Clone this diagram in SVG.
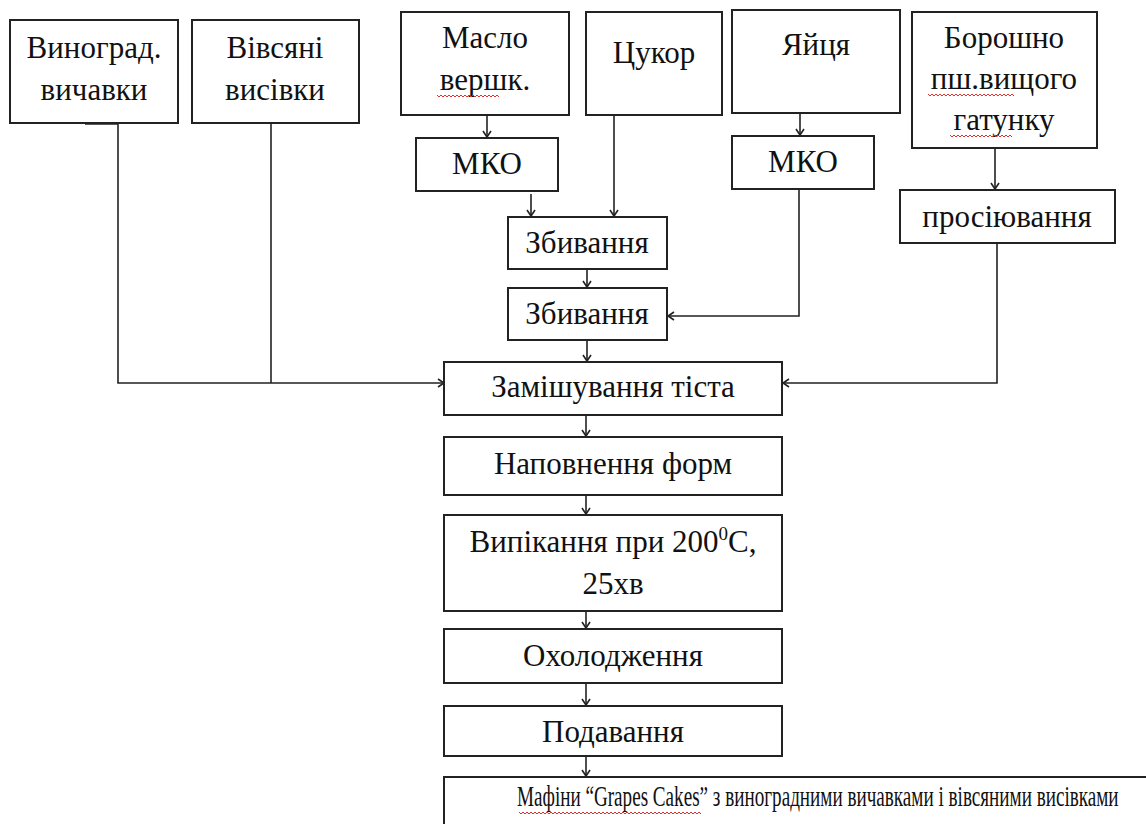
<svg xmlns="http://www.w3.org/2000/svg" width="1146" height="824" viewBox="0 0 1146 824">
<style>
.b{fill:#fff;stroke:#222;stroke-width:2}
.t{font-family:"Liberation Serif","Times New Roman",serif;font-size:31px;fill:#111;text-anchor:middle}
.c{fill:none;stroke:#222;stroke-width:1.6}
.w{fill:none;stroke:#e03030;stroke-width:1}
</style>
<defs>
<marker id="a" markerWidth="10" markerHeight="10" refX="8" refY="5" orient="auto" markerUnits="userSpaceOnUse">
<path d="M2,1 L8,5 L2,9" fill="none" stroke="#222" stroke-width="1.6"/>
</marker>
</defs>
<rect width="1146" height="824" fill="#fff"/>
<g id="connectors">
<line class="c" x1="85" y1="124" x2="118" y2="124" stroke-width="3"/>
<polyline class="c" points="118,123 118,383 444,383" marker-end="url(#a)"/>
<line class="c" x1="271" y1="123" x2="271" y2="383"/>
<line class="c" x1="487" y1="115" x2="487" y2="137" marker-end="url(#a)"/>
<line class="c" x1="531" y1="194" x2="531" y2="216" marker-end="url(#a)"/>
<line class="c" x1="614" y1="115" x2="614" y2="216" marker-end="url(#a)"/>
<line class="c" x1="800" y1="113" x2="800" y2="135" marker-end="url(#a)"/>
<polyline class="c" points="799,189 799,316 668,316" marker-end="url(#a)"/>
<line class="c" x1="995" y1="148" x2="995" y2="189" marker-end="url(#a)"/>
<polyline class="c" points="997,243 997,383 783,383" marker-end="url(#a)"/>
<line class="c" x1="587" y1="269" x2="587" y2="287" marker-end="url(#a)"/>
<line class="c" x1="587" y1="340" x2="587" y2="361" marker-end="url(#a)"/>
<line class="c" x1="586" y1="415" x2="586" y2="436" marker-end="url(#a)"/>
<line class="c" x1="586" y1="495" x2="586" y2="514" marker-end="url(#a)"/>
<line class="c" x1="586" y1="611" x2="586" y2="628" marker-end="url(#a)"/>
<line class="c" x1="586" y1="683" x2="586" y2="705" marker-end="url(#a)"/>
<line class="c" x1="586" y1="756" x2="586" y2="776" marker-end="url(#a)"/>
</g>
<g id="n1"><rect class="b" x="10" y="20" width="168" height="103"/><text class="t" x="94" y="58">Виноград.</text><text class="t" x="94" y="100">вичавки</text></g>
<g id="n2"><rect class="b" x="192" y="20" width="167" height="103"/><text class="t" x="275" y="58">Вівсяні</text><text class="t" x="275" y="100">висівки</text></g>
<g id="n3"><rect class="b" x="401" y="12" width="168" height="103"/><text class="t" x="485" y="48">Масло</text><text class="t" x="485" y="90">вершк.</text><path class="w" d="M437,95 l2,2 l2,-2 l2,2 l2,-2 l2,2 l2,-2 l2,2 l2,-2 l2,2 l2,-2 l2,2 l2,-2 l2,2 l2,-2 l2,2 l2,-2 l2,2 l2,-2 l2,2 l2,-2 l2,2 l2,-2 l2,2 l2,-2 l2,2 l2,-2 l2,2 l2,-2 l2,2 l2,-2 l2,2"/></g>
<g id="n4"><rect class="b" x="586" y="12" width="136" height="103"/><text class="t" x="654" y="63">Цукор</text></g>
<g id="n5"><rect class="b" x="732" y="10" width="168" height="103"/><text class="t" x="816" y="55">Яйця</text></g>
<g id="n6"><rect class="b" x="912" y="12" width="185" height="136"/><text class="t" x="1004" y="48">Борошно</text><text class="t" x="1004" y="89">пш.вищого</text><text class="t" x="1004" y="130">гатунку</text>
<path class="w" d="M928,94 l2,2 l2,-2 l2,2 l2,-2 l2,2 l2,-2 l2,2 l2,-2 l2,2 l2,-2 l2,2 l2,-2 l2,2 l2,-2 l2,2 l2,-2 l2,2 l2,-2 l2,2 l2,-2 l2,2 l2,-2 l2,2 l2,-2 l2,2 l2,-2 l2,2 l2,-2 l2,2 l2,-2 l2,2 l2,-2 l2,2 l2,-2 l2,2 l2,-2 l2,2 l2,-2 l2,2 l2,-2 l2,2 l2,-2 l2,2"/>
<path class="w" d="M950,135 l2,2 l2,-2 l2,2 l2,-2 l2,2 l2,-2 l2,2 l2,-2 l2,2 l2,-2 l2,2 l2,-2 l2,2 l2,-2 l2,2 l2,-2 l2,2 l2,-2 l2,2 l2,-2 l2,2 l2,-2 l2,2 l2,-2 l2,2 l2,-2 l2,2 l2,-2 l2,2 l2,-2 l2,2"/></g>
<g id="n7"><rect class="b" x="416" y="138" width="142" height="53"/><text class="t" x="487" y="174">МКО</text></g>
<g id="n8"><rect class="b" x="732" y="136" width="142" height="53"/><text class="t" x="803" y="172">МКО</text></g>
<g id="n9"><rect class="b" x="900" y="190" width="215" height="53"/><text class="t" x="1007" y="227">просіювання</text></g>
<g id="n10"><rect class="b" x="508" y="217" width="159" height="52"/><text class="t" x="587" y="253">Збивання</text></g>
<g id="n11"><rect class="b" x="508" y="288" width="159" height="52"/><text class="t" x="587" y="324">Збивання</text></g>
<g id="n12"><rect class="b" x="444" y="362" width="338" height="53"/><text class="t" x="613" y="397">Замішування тіста</text></g>
<g id="n13"><rect class="b" x="444" y="437" width="338" height="58"/><text class="t" x="613" y="474">Наповнення форм</text></g>
<g id="n14"><rect class="b" x="444" y="515" width="338" height="96"/><text class="t" x="613" y="552">Випікання при 200<tspan font-size="19" dy="-12">0</tspan><tspan dy="12">С,</tspan></text><text class="t" x="613" y="594">25хв</text></g>
<g id="n15"><rect class="b" x="444" y="629" width="338" height="54"/><text class="t" x="613" y="666">Охолодження</text></g>
<g id="n16"><rect class="b" x="444" y="706" width="338" height="50"/><text class="t" x="613" y="742">Подавання</text></g>
<g id="n17"><path d="M1146,777 H444 V824" fill="none" stroke="#222" stroke-width="2"/><text class="t" transform="matrix(0.66 0 0 1 517 806)" x="0" y="0" style="text-anchor:start;font-size:29px">Мафіни “Grapes Cakes” з виноградними вичавками і вівсяними висівками</text>
<path class="w" d="M519,812 l2,2 l2,-2 l2,2 l2,-2 l2,2 l2,-2 l2,2 l2,-2 l2,2 l2,-2 l2,2 l2,-2 l2,2 l2,-2 l2,2 l2,-2 l2,2 l2,-2 l2,2 l2,-2 l2,2 l2,-2 l2,2 l2,-2 l2,2 l2,-2 l2,2 l2,-2 l2,2 l2,-2 l2,2 l2,-2 l2,2 l2,-2 l2,2 l2,-2 l2,2 l2,-2 l2,2 l2,-2 l2,2 l2,-2 l2,2 l2,-2 l2,2 l2,-2 l2,2 l2,-2 l2,2 l2,-2 l2,2 l2,-2 l2,2 l2,-2 l2,2 l2,-2 l2,2 l2,-2 l2,2 l2,-2 l2,2 l2,-2 l2,2 l2,-2 l2,2 l2,-2 l2,2 l2,-2 l2,2 l2,-2 l2,2 l2,-2 l2,2 l2,-2 l2,2 l2,-2 l2,2 l2,-2 l2,2 l2,-2 l2,2 l2,-2 l2,2 l2,-2 l2,2 l2,-2 l2,2 l2,-2 l2,2 l2,-2 l2,2"/></g>
</svg>
